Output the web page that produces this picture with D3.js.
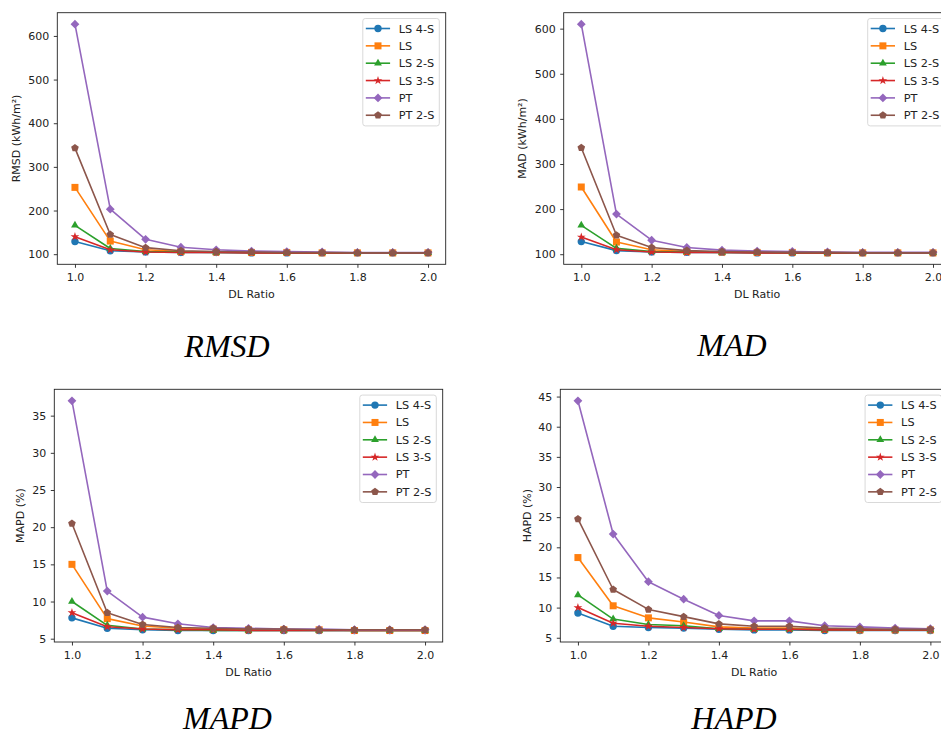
<!DOCTYPE html>
<html>
<head>
<meta charset="utf-8">
<script src="https://cdn.jsdelivr.net/npm/d3@7"></script>
<style>
  html, body { margin: 0; padding: 0; background: #fff; }
  svg { display: block; }
</style>
</head>
<body>
<svg id="chart" width="941" height="736"></svg>
<script>
// ---------------- DATA ----------------
const dlRatio = [1.0, 1.1, 1.2, 1.3, 1.4, 1.5, 1.6, 1.7, 1.8, 1.9, 2.0];
const seriesNames = ["LS 4-S", "LS", "LS 2-S", "LS 3-S", "PT", "PT 2-S"];
const xTicks = [1.0, 1.2, 1.4, 1.6, 1.8, 2.0];

// RMSD (kWh/m²), one row per series in seriesNames order
const rmsdValues = [
  [129, 108, 105, 104, 104, 103, 103, 103, 103, 103, 103],
  [253, 130, 110, 106, 105, 104, 104, 103, 103, 103, 103],
  [166, 113, 106, 105, 104, 104, 103, 103, 103, 103, 103],
  [140, 110, 105, 104, 104, 103, 103, 103, 103, 103, 103],
  [627, 203, 134, 116, 110, 107, 106, 105, 104, 104, 104],
  [343, 145, 115, 108, 106, 105, 104, 104, 103, 103, 103]
];
const rmsdTicks = [100, 200, 300, 400, 500, 600];

// MAD (kWh/m²)
const madValues = [
  [128, 108, 105, 104, 104, 103, 103, 103, 103, 103, 103],
  [249, 127, 110, 106, 105, 104, 104, 103, 103, 103, 103],
  [164, 113, 106, 105, 104, 104, 103, 103, 103, 103, 103],
  [138, 110, 105, 104, 104, 103, 103, 103, 103, 103, 103],
  [610, 189, 131, 115, 109, 107, 106, 105, 104, 104, 104],
  [336, 142, 115, 108, 106, 105, 104, 104, 103, 103, 103]
];
const madTicks = [100, 200, 300, 400, 500, 600];

// MAPD (%)
const mapdValues = [
  [7.8, 6.4, 6.2, 6.1, 6.1, 6.1, 6.1, 6.1, 6.1, 6.1, 6.1],
  [15.0, 7.7, 6.7, 6.4, 6.3, 6.2, 6.2, 6.2, 6.1, 6.1, 6.1],
  [10.0, 6.8, 6.3, 6.2, 6.1, 6.1, 6.1, 6.1, 6.1, 6.1, 6.1],
  [8.5, 6.6, 6.3, 6.2, 6.2, 6.1, 6.1, 6.1, 6.1, 6.1, 6.1],
  [37.0, 11.4, 7.9, 7.0, 6.5, 6.4, 6.3, 6.3, 6.2, 6.2, 6.2],
  [20.5, 8.5, 6.9, 6.5, 6.4, 6.3, 6.3, 6.2, 6.2, 6.2, 6.2]
];
const mapdTicks = [5, 10, 15, 20, 25, 30, 35];

// HAPD (%)
const hapdValues = [
  [9.1, 6.9, 6.7, 6.6, 6.4, 6.3, 6.3, 6.2, 6.2, 6.2, 6.2],
  [18.3, 10.3, 8.3, 7.6, 6.8, 6.6, 6.6, 6.4, 6.3, 6.3, 6.3],
  [12.1, 8.1, 7.2, 7.0, 6.5, 6.4, 6.4, 6.3, 6.3, 6.3, 6.3],
  [10.0, 7.4, 6.9, 6.7, 6.5, 6.4, 6.4, 6.3, 6.3, 6.3, 6.3],
  [44.3, 22.2, 14.3, 11.4, 8.7, 7.8, 7.8, 7.0, 6.8, 6.6, 6.5],
  [24.7, 13.0, 9.7, 8.5, 7.3, 6.9, 6.9, 6.6, 6.5, 6.4, 6.4]
];
const hapdTicks = [5, 10, 15, 20, 25, 30, 35, 40, 45];

const xLabel = "DL Ratio";
const yLabels = ["RMSD (kWh/m²)", "MAD (kWh/m²)", "MAPD (%)", "HAPD (%)"];
const panelTitles = ["RMSD", "MAD", "MAPD", "HAPD"];

// ---------------- STYLE / LAYOUT ----------------
const colors = ["#1f77b4", "#ff7f0e", "#2ca02c", "#d62728", "#9467bd", "#8c564b"];
const markers = ["circle", "square", "triangle", "star", "diamond", "pentagon"];
const sansFont = "'DejaVu Sans', sans-serif";
const serifFont = "'Liberation Serif', 'Times New Roman', serif";

const panels = [
  { values: rmsdValues, ticks: rmsdTicks, rect: [57.3, 12.7, 445.7, 264.3], ylx: 19.5, title: [227, 356.5] },
  { values: madValues,  ticks: madTicks,  rect: [563.7, 12.7, 950.6, 264.3], ylx: 525.5, title: [732, 356] },
  { values: mapdValues, ticks: mapdTicks, rect: [54.3, 389.3, 442.7, 642], ylx: 24, title: [227.5, 729] },
  { values: hapdValues, ticks: hapdTicks, rect: [560.3, 389.3, 948, 642], ylx: 530.5, title: [734, 729] }
];

function markerPath(type) {
  const p = d3.path();
  if (type === "circle") {
    p.arc(0, 0, 3.7, 0, 2 * Math.PI);
  } else if (type === "square") {
    const s = 3.5; p.rect(-s, -s, 2 * s, 2 * s);
  } else if (type === "triangle") {
    const r = 4.5;
    for (let i = 0; i < 3; i++) {
      const a = -Math.PI / 2 + i * 2 * Math.PI / 3;
      if (i === 0) p.moveTo(r * Math.cos(a), r * Math.sin(a)); else p.lineTo(r * Math.cos(a), r * Math.sin(a));
    }
    p.closePath();
  } else if (type === "star") {
    const R = 4.6, r = R * 0.381966;
    for (let i = 0; i < 10; i++) {
      const a = -Math.PI / 2 + i * Math.PI / 5;
      const rr = i % 2 === 0 ? R : r;
      if (i === 0) p.moveTo(rr * Math.cos(a), rr * Math.sin(a)); else p.lineTo(rr * Math.cos(a), rr * Math.sin(a));
    }
    p.closePath();
  } else if (type === "diamond") {
    const r = 4.4;
    p.moveTo(0, -r); p.lineTo(r, 0); p.lineTo(0, r); p.lineTo(-r, 0); p.closePath();
  } else if (type === "pentagon") {
    const r = 4.0;
    for (let i = 0; i < 5; i++) {
      const a = -Math.PI / 2 + i * 2 * Math.PI / 5;
      if (i === 0) p.moveTo(r * Math.cos(a), r * Math.sin(a)); else p.lineTo(r * Math.cos(a), r * Math.sin(a));
    }
    p.closePath();
  }
  return p.toString();
}

const svg = d3.select("#chart");
const fontSize = 11;

panels.forEach((pn, pi) => {
  const [x0, y0, x1, y1] = pn.rect;
  const allVals = pn.values.flat();
  const vmin = d3.min(allVals), vmax = d3.max(allVals);
  const vpad = (vmax - vmin) * 0.05;
  const xs = d3.scaleLinear().domain([0.95, 2.05]).range([x0, x1]);
  const ys = d3.scaleLinear().domain([vmin - vpad, vmax + vpad]).range([y1, y0]);

  const g = svg.append("g");

  // series
  pn.values.forEach((vals, si) => {
    const pts = dlRatio.map((x, i) => [x, vals[i]]);
    g.append("path")
      .attr("d", d3.line().x(d => xs(d[0])).y(d => ys(d[1]))(pts))
      .attr("fill", "none")
      .attr("stroke", colors[si])
      .attr("stroke-width", 1.6)
      .attr("stroke-linejoin", "round");
    g.selectAll(null).data(pts).enter().append("path")
      .attr("d", markerPath(markers[si]))
      .attr("transform", d => `translate(${xs(d[0])},${ys(d[1])})`)
      .attr("fill", colors[si]);
  });

  // axes
  const xAxis = d3.axisBottom(xs).tickValues(xTicks).tickFormat(d3.format(".1f"))
    .tickSize(3.5).tickPadding(5.5).tickSizeOuter(0);
  const yAxis = d3.axisLeft(ys).tickValues(pn.ticks).tickFormat(d3.format("d"))
    .tickSize(3.5).tickPadding(4.5).tickSizeOuter(0);

  const gx = g.append("g").attr("transform", `translate(0,${y1})`).call(xAxis);
  const gy = g.append("g").attr("transform", `translate(${x0},0)`).call(yAxis);
  [gx, gy].forEach(a => {
    a.attr("font-family", null).attr("font-size", null);
    a.select(".domain").remove();
    a.selectAll("text").style("font-size", fontSize + "px").attr("fill", "#222")
      .style("font-family", sansFont);
    a.selectAll("line").attr("stroke", "#222").attr("stroke-width", 0.9);
  });

  // frame
  g.append("rect")
    .attr("x", x0).attr("y", y0).attr("width", x1 - x0).attr("height", y1 - y0)
    .attr("fill", "none").attr("stroke", "#222").attr("stroke-width", 0.9);

  // axis labels
  g.append("text")
    .attr("x", (x0 + x1) / 2).attr("y", y1 + 34)
    .attr("text-anchor", "middle").style("font-size", fontSize + "px").style("font-family", sansFont)
    .attr("fill", "#222")
    .text(xLabel);
  g.append("text")
    .attr("transform", `translate(${pn.ylx},${(y0 + y1) / 2}) rotate(-90)`)
    .attr("text-anchor", "middle").style("font-size", fontSize + "px").style("font-family", sansFont)
    .attr("fill", "#222")
    .text(yLabels[pi]);

  // legend
  const lw = 76.5, lh = 107.4;
  const lx = x1 - 6.4 - lw, ly = y0 + 5.8;
  const lg = g.append("g").attr("transform", `translate(${lx},${ly})`);
  lg.append("rect").attr("width", lw).attr("height", lh).attr("rx", 2.5)
    .attr("fill", "#fff").attr("fill-opacity", 0.85)
    .attr("stroke", "#d5d5d5").attr("stroke-width", 0.9);
  seriesNames.forEach((name, si) => {
    const cy = 10 + si * 17.35;
    lg.append("line").attr("x1", 3).attr("x2", 27.3).attr("y1", cy).attr("y2", cy)
      .attr("stroke", colors[si]).attr("stroke-width", 1.6);
    lg.append("path").attr("d", markerPath(markers[si]))
      .attr("transform", `translate(15.2,${cy})`).attr("fill", colors[si]);
    lg.append("text").attr("x", 36).attr("y", cy + 4)
      .style("font-size", "11.3px").style("font-family", sansFont)
      .attr("fill", "#222").text(name);
  });

  // panel title
  svg.append("text")
    .attr("x", pn.title[0]).attr("y", pn.title[1])
    .attr("text-anchor", "middle")
    .style("font-family", serifFont)
    .style("font-style", "italic").style("font-size", "32px").attr("fill", "#000")
    .text(panelTitles[pi]);
});
</script>
</body>
</html>
